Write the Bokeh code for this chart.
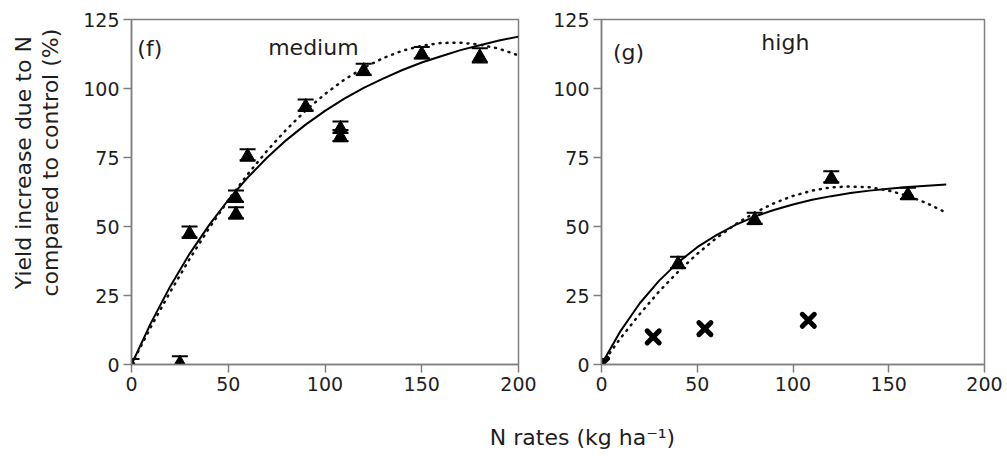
from bokeh.plotting import figure
from bokeh.layouts import column, row
from bokeh.models import ColumnDataSource, Range1d, Label, Whisker, TeeHead
from bokeh.transform import dodge
from bokeh.embed import file_html
from bokeh.resources import INLINE

# ---------------- data ----------------
x_ticks = [0, 50, 100, 150, 200]
y_ticks = [0, 25, 50, 75, 100, 125]

# panel (f) "medium": observed points (triangles) with error bars
medium_x = [0, 25, 30, 54, 54, 60, 90, 108, 108, 120, 150, 180]
medium_y = [0, 1, 48, 61, 55, 76, 94, 86, 83, 107, 113, 112]
medium_err = [2, 2, 2, 2, 2, 2, 2, 2, 2, 2, 2, 2.6]

# fitted curves of panel (f)
medium_fit_x = [0, 10, 20, 30, 40, 50, 60, 70, 80, 90, 100,
                110, 120, 130, 140, 150, 160, 170, 180, 190, 200]
medium_solid = [0, 15.0, 28.3, 40.1, 50.4, 59.6, 67.7, 74.9, 81.3, 86.9, 91.9,
                96.3, 100.2, 103.6, 106.7, 109.4, 111.7, 113.9, 115.7, 117.4, 118.8]
medium_dotted = [0, 13.6, 26.3, 38.2, 49.3, 59.5, 68.9, 77.4, 85.1, 92.0, 98.0,
                 103.2, 107.5, 111.0, 113.7, 115.5, 116.5, 116.6, 115.9, 114.4, 112.0]

# panel (g) "high": triangles with error bars, and crosses
high_x = [0, 40, 80, 120, 160]
high_y = [0, 37, 53, 68, 62]
high_err = [2, 2, 2, 2, 2]
high_cross_x = [0, 27, 54, 108]
high_cross_y = [0, 10, 13, 16]

high_fit_x = [0, 10, 20, 30, 40, 50, 60, 70, 80, 90,
              100, 110, 120, 130, 140, 150, 160, 170, 180]
high_solid = [0, 12.2, 22.2, 30.3, 37.0, 42.5, 46.9, 50.6, 53.6, 56.0,
              58.0, 59.7, 61.0, 62.1, 63.0, 63.7, 64.3, 64.8, 65.2]
high_dotted = [0, 9.6, 18.3, 26.4, 33.6, 40.1, 45.8, 50.8, 55.0, 58.4,
               61.1, 63.0, 64.2, 64.5, 64.2, 63.0, 61.1, 58.4, 55.0]

y_title = ["Yield increase due to N", "compared to control (%)"]
x_title = "N rates (kg ha\u207b\u00b9)"

# ---------------- styling ----------------
FONT = "DejaVu Sans"
TXT = "#1e1e1e"
AX = "#7f7f7f"


def make_panel(width, border_left, border_right):
    p = figure(width=width, height=400,
               x_range=Range1d(0, 200), y_range=Range1d(0, 125),
               output_backend="svg", toolbar_location=None,
               min_border_left=border_left, min_border_right=border_right,
               min_border_top=19, min_border_bottom=36)
    p.grid.visible = False
    p.outline_line_color = AX
    p.outline_line_width = 1.5
    p.background_fill_color = "white"
    p.border_fill_color = "white"
    p.xaxis.ticker = x_ticks
    p.yaxis.ticker = y_ticks
    for ax in (p.xaxis, p.yaxis):
        ax.axis_line_color = AX
        ax.axis_line_width = 1.5
        ax.major_tick_line_color = AX
        ax.major_tick_line_width = 1.5
        ax.major_tick_out = 8
        ax.major_tick_in = 0
        ax.minor_tick_line_color = None
        ax.major_label_text_font = FONT
        ax.major_label_text_font_size = "19px"
        ax.major_label_text_color = TXT
        ax.major_label_standoff = 4
    return p


def add_points(p, xs, ys, errs):
    src = ColumnDataSource(dict(
        x=xs, y=ys,
        upper=[y + e for y, e in zip(ys, errs)],
        lower=[y - e for y, e in zip(ys, errs)],
    ))
    w = Whisker(base="x", upper="upper", lower="lower", source=src,
                line_color="black", line_width=1.5, level="underlay",
                upper_head=TeeHead(size=16, line_width=2, line_color="black"),
                lower_head=TeeHead(size=16, line_width=2, line_color="black"))
    p.add_layout(w)
    p.scatter(x="x", y=dodge("y", -0.75, range=p.y_range), source=src,
              marker="triangle", size=15, fill_color="black", line_color="black")


def panel_text(p, x, y, text, align="left"):
    p.add_layout(Label(x=x, y=y, text=text, text_font=FONT, text_font_size="22px",
                       text_color=TXT, text_align=align, text_baseline="alphabetic"))


# ---------------- left strip with the y title ----------------
p0 = figure(width=66, height=400, x_range=Range1d(0, 66), y_range=Range1d(0, 400),
            x_axis_location=None, y_axis_location=None,
            output_backend="svg", toolbar_location=None, min_border=0)
p0.grid.visible = False
p0.outline_line_color = None
for xpos, line in zip([23, 50], y_title):
    p0.add_layout(Label(x=xpos, y=234, angle=90, angle_units="deg", text=line,
                        text_font=FONT, text_font_size="22px", text_color=TXT,
                        text_align="center", text_baseline="middle"))

# ---------------- panel (f) ----------------
p1 = make_panel(484, 65, 32)
p1.line(medium_fit_x, medium_solid, line_color="black", line_width=2)
p1.line(medium_fit_x, medium_dotted, line_color="#111111", line_width=2.5,
        line_dash="1 6", line_cap="round")
add_points(p1, medium_x, medium_y, medium_err)
panel_text(p1, 3, 114.5, "(f)")
panel_text(p1, 94, 115, "medium", align="center")

# ---------------- panel (g) ----------------
p2 = make_panel(457, 50, 23)
p2.line(high_fit_x, high_solid, line_color="black", line_width=2)
p2.line(high_fit_x, high_dotted, line_color="#111111", line_width=2.5,
        line_dash="1 6", line_cap="round")
add_points(p2, high_x, high_y, high_err)
p2.scatter(high_cross_x, high_cross_y, marker="x", size=17,
           line_color="black", line_width=5, line_cap="round")
panel_text(p2, 6, 113, "(g)")
panel_text(p2, 96, 116.5, "high", align="center")

# ---------------- shared x title ----------------
p3 = figure(width=1007, height=63, x_range=Range1d(0, 1007), y_range=Range1d(0, 63),
            x_axis_location=None, y_axis_location=None,
            output_backend="svg", toolbar_location=None, min_border=0)
p3.grid.visible = False
p3.outline_line_color = None
p3.add_layout(Label(x=582, y=26, text=x_title, text_font=FONT, text_font_size="22px",
                    text_color=TXT, text_align="center", text_baseline="middle"))

layout = column(row(p0, p1, p2), p3)
open("out.html", "w").write(file_html(layout, INLINE))
